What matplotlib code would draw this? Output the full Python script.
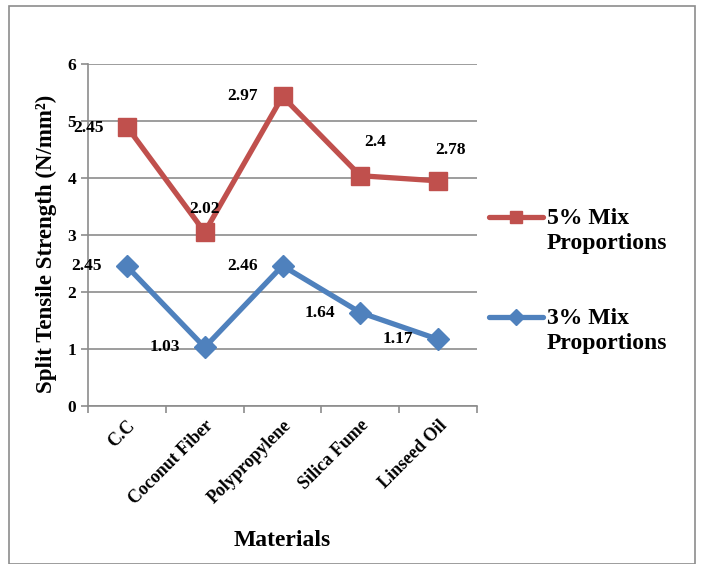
import matplotlib
matplotlib.use("Agg")
import matplotlib.pyplot as plt
from matplotlib.patches import Rectangle
from matplotlib.lines import Line2D
from matplotlib.transforms import ScaledTranslation

plt.rcParams['font.family'] = ['Liberation Serif', 'DejaVu Serif']
plt.rcParams['font.weight'] = 'bold'

materials = ["C.C", "Coconut Fiber", "Polypropylene", "Silica Fume", "Linseed Oil"]
mix3 = [2.45, 1.03, 2.46, 1.64, 1.17]
mix5 = [2.45, 2.02, 2.97, 2.4, 2.78]
series_names = ["5% Mix\nProportions", "3% Mix\nProportions"]

# stacked line: the 5% series sits on top of the 3% series
stack5 = [a + b for a, b in zip(mix3, mix5)]

red = "#C0504D"
blue = "#4F81BD"
grid_gray = "#8C8C8C"

W, H = 702, 564
fig = plt.figure(figsize=(W / 100, H / 100), dpi=100)
fig.patches.append(Rectangle((9 / W, 0), (695 - 9) / W, 1 - 6 / H,
                             transform=fig.transFigure, fill=False,
                             edgecolor="#8C8C8C", linewidth=1.2))

ax = fig.add_axes([88 / W, 1 - 406 / H, (477 - 88) / W, (406 - 64) / H])
x = list(range(len(materials)))

ax.plot(x, stack5, color=red, linewidth=3.8, marker='s', markersize=13,
        markeredgecolor=red, zorder=3)
ax.plot(x, mix3, color=blue, linewidth=3.8, marker='D', markersize=11,
        markeredgecolor=blue, zorder=3)

ax.set_xlim(-0.5, len(materials) - 0.5)
ax.set_ylim(0, 6)
ax.set_yticks(range(0, 7))
ax.yaxis.grid(True, color=grid_gray, linewidth=1.2)
ax.set_axisbelow(True)
for s in ["top", "right"]:
    ax.spines[s].set_visible(False)
for s in ["left", "bottom"]:
    ax.spines[s].set_color(grid_gray)
    ax.spines[s].set_linewidth(1.2)

ax.set_xticks([i - 0.5 for i in range(len(materials) + 1)], minor=False)
ax.set_xticklabels([])
ax.set_xticks(x, minor=True)
ax.set_xticklabels(materials, minor=True, rotation=45, ha='right',
                   rotation_mode='anchor', fontsize=13, fontweight='bold')
shift = ScaledTranslation(-4 / 72, -3 / 72, fig.dpi_scale_trans)
for lbl in ax.get_xticklabels(minor=True):
    lbl.set_transform(lbl.get_transform() + shift)
ax.tick_params(axis='x', which='major', length=5, color=grid_gray, width=1.2)
ax.tick_params(axis='x', which='minor', length=0, pad=8)
ax.tick_params(axis='y', length=5, color=grid_gray, width=1.2, labelsize=12.5)
for t in ax.get_yticklabels():
    t.set_fontweight('bold')

ax.set_ylabel("Split Tensile Strength (N/mm²)", fontsize=16.5,
              fontweight='bold')
ax.yaxis.set_label_coords(-0.08, 0.475)
ax.set_xlabel("Materials", fontsize=17, fontweight='bold', labelpad=16)

# data label placement (points offsets)
off3 = [(-18, 0)] * 5
off5 = [(-17, -1), (0, 17), (-18, 0), (11, 24), (9, 22)]
ha3 = ['right'] * 5
ha5 = ['right', 'center', 'right', 'center', 'center']
for i in x:
    ax.annotate(f"{mix3[i]:g}", (x[i], mix3[i]), xytext=off3[i],
                textcoords='offset points', ha=ha3[i], va='center',
                fontsize=12.5, fontweight='bold', zorder=5)
    ax.annotate(f"{mix5[i]:g}", (x[i], stack5[i]), xytext=off5[i],
                textcoords='offset points', ha=ha5[i], va='center',
                fontsize=12.5, fontweight='bold', zorder=5)

# legend entries drawn at the right of the plot area
legend_items = [(series_names[0], red, 's', 9, 217),
                (series_names[1], blue, 'D', 8, 317)]
for name, col, mk, ms, ypix in legend_items:
    yf = 1 - ypix / H
    fig.add_artist(Line2D([489 / W, 543 / W], [yf, yf], transform=fig.transFigure,
                          color=col, linewidth=3.8, solid_capstyle='round'))
    fig.add_artist(Line2D([516 / W], [yf], transform=fig.transFigure,
                          color=col, marker=mk, markersize=ms, linestyle='none'))
    fig.text(547 / W, 1 - (ypix - 9) / H, name, fontsize=17, fontweight='bold',
             ha='left', va='top', linespacing=1.22)

fig.savefig("out.png", dpi=100)
